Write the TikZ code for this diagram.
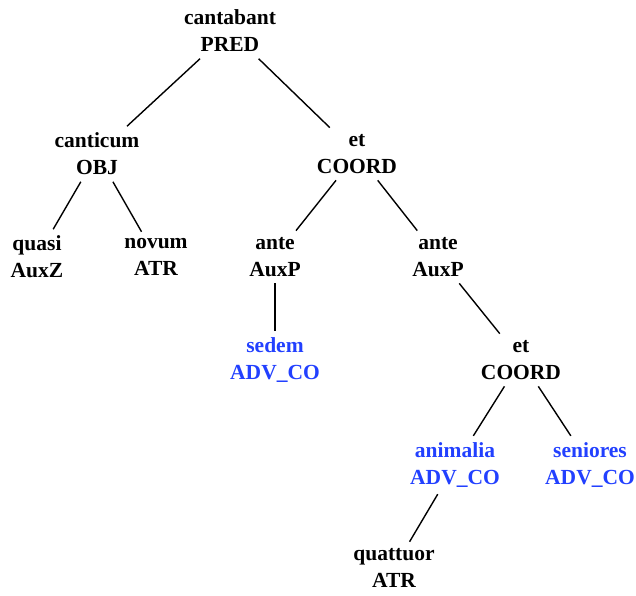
\documentclass[tikz,border=0pt]{standalone}
\usepackage{fontspec}
\setmainfont{Liberation Serif}
\definecolor{coblue}{RGB}{34,64,255}
\begin{document}
\begin{tikzpicture}[x=1pt,y=-1pt,
  tn/.style={align=center,font=\bfseries\fontsize{21.5}{27}\selectfont,inner xsep=2pt,inner ysep=6.5pt},
  bl/.style={tn,text=coblue},
  edge/.style={line width=1.4pt,black}]
\useasboundingbox (0,0) rectangle (636,595);
\node[tn] (pred) at (230,31) {cantabant\\PRED};
\node[tn] (obj) at (97,154) {canticum\\OBJ};
\node[tn] (coord1) at (357,154) {et\\COORD};
\node[tn] (quasi) at (37,257) {quasi\\AuxZ};
\node[tn] (novum) at (156,257) {novum\\ATR};
\node[tn] (ante1) at (275,257) {ante\\AuxP};
\node[tn] (ante2) at (438,257) {ante\\AuxP};
\node[bl] (sedem) at (275,360) {sedem\\ADV\_CO};
\node[tn] (coord2) at (521,360) {et\\COORD};
\node[bl] (anim) at (455,465) {animalia\\ADV\_CO};
\node[bl] (sen) at (590,465) {seniores\\ADV\_CO};
\node[tn] (quat) at (394,568) {quattuor\\ATR};
\draw[edge] (pred) -- (obj);
\draw[edge] (pred) -- (coord1);
\draw[edge] (obj) -- (quasi);
\draw[edge] (obj) -- (novum);
\draw[edge] (coord1) -- (ante1);
\draw[edge] (coord1) -- (ante2);
\draw[edge] (ante1) -- (sedem);
\draw[edge] (ante2) -- (coord2);
\draw[edge] (coord2) -- (anim);
\draw[edge] (coord2) -- (sen);
\draw[edge] (anim) -- (quat);
\end{tikzpicture}
\end{document}
